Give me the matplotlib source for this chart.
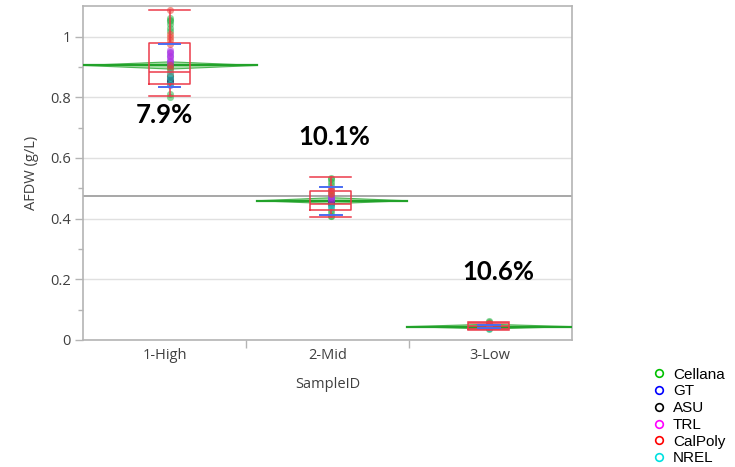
import matplotlib.pyplot as plt
from matplotlib.lines import Line2D
from matplotlib.ticker import FixedLocator, NullFormatter


plt.rcParams["font.family"] = ["Open Sans", "DejaVu Sans"]

# groups and summary values
groups = ["1-High", "2-Mid", "3-Low"]
group_n = [57, 49, 54]
group_means = [0.905, 0.459, 0.044]
cv_pct = [7.9, 10.1, 10.6]
ci_half = [0.012, 0.010, 0.008]
grand_mean = 0.475

# box plot stats read per group
q1 = [0.845, 0.429, 0.036]
medians = [0.883, 0.447, 0.045]
q3 = [0.979, 0.492, 0.056]
whis_lo = [0.803, 0.407, 0.032]
whis_hi = [1.089, 0.537, 0.060]

# individual AFDW values by lab, one list per group (High, Mid, Low)
labs = ["Cellana", "GT", "ASU", "TRL", "CalPoly", "NREL"]
cellana = [
    [1.06, 1.055, 1.05, 1.04, 1.03, 1.02, 0.91, 0.90, 0.89, 0.87, 0.85, 0.81, 0.80],
    [0.535, 0.53, 0.52, 0.51, 0.46, 0.45, 0.43, 0.42, 0.41, 0.408],
    [0.062, 0.058, 0.040, 0.037],
]
gt = [
    [0.95, 0.935, 0.92, 0.905, 0.86, 0.85, 0.84],
    [0.49, 0.475, 0.465, 0.46, 0.45],
    [0.050, 0.046, 0.043],
]
asu = [
    [0.87, 0.86, 0.855],
    [0.455, 0.445],
    [0.045, 0.042],
]
trl = [
    [0.955, 0.945, 0.935, 0.925, 0.915],
    [0.47, 0.46],
    [0.048, 0.044],
]
calpoly = [
    [1.089, 1.01, 1.00, 0.99, 0.975, 0.905, 0.895, 0.88],
    [0.50, 0.495, 0.485, 0.48],
    [0.055, 0.052, 0.047],
]
nrel = [
    [0.88, 0.865, 0.845],
    [0.44, 0.435],
    [0.041, 0.039],
]
lab_values = [cellana, gt, asu, trl, calpoly, nrel]

point_colors = ["#2fb34a", "#3b4cf0", "#333333", "#c030e0", "#e8452f", "#20c8c8"]
legend_colors = ["#00c000", "#0000ff", "#000000", "#ff00ff", "#ff0000", "#00e0e0"]

GRID = "#e0e0e0"
AXIS = "#b4b4b4"
TEXT = "#404040"
BOX_RED = "#ec3a4a"
SD_BLUE = "#4a6cf2"
DIAMOND = "#22a22a"

fig = plt.figure(figsize=(7.35, 4.67), dpi=100)
ax = fig.add_axes([0.1133, 0.272, 0.6645, 0.7152])
ax.set_xlim(-0.5, 2.5)
ax.set_ylim(0, 1.101)

# category centres, the columns sit slightly off-centre
pos = [0.03, 1.02, 1.99]

# means diamonds, width proportional to group size
total = sum(group_n)
edges = [-0.5]
for n in group_n:
    edges.append(edges[-1] + 3.0 * n / total)

ax.axhline(grand_mean, color="#a0a0a0", lw=1.3, zorder=2)

for i, m in enumerate(group_means):
    x0, x1 = edges[i], edges[i + 1]
    xc = (x0 + x1) / 2
    h = ci_half[i]
    ax.fill([x0, xc, x1, xc], [m, m + h, m, m - h], facecolor="#8fd68f",
            edgecolor=DIAMOND, lw=0.8, alpha=0.75, zorder=3)
    ax.plot([x0, x1], [m, m], color=DIAMOND, lw=1.6, zorder=4)

# points coloured by lab
for vals, col in zip(lab_values, point_colors):
    for i, ys in enumerate(vals):
        ax.scatter([pos[i]] * len(ys), ys, s=26, color=col, alpha=0.55,
                   linewidths=0, zorder=5)

# box plots
stats = []
for i in range(len(groups)):
    stats.append({"q1": q1[i], "med": medians[i], "q3": q3[i],
                  "whislo": whis_lo[i], "whishi": whis_hi[i], "fliers": []})
red = {"color": BOX_RED, "lw": 1.1}
ax.bxp(stats, positions=pos, widths=0.25, capwidths=0.25, showfliers=False,
       boxprops=red, whiskerprops=red, capprops=red, medianprops=red,
       manage_ticks=False, zorder=6)

# standard deviation lines
for i, m in enumerate(group_means):
    sd = m * cv_pct[i] / 100
    for y in (m - sd, m + sd):
        ax.plot([pos[i] - 0.067, pos[i] + 0.067], [y, y], color=SD_BLUE,
                lw=1.4, zorder=7)

# CV labels
label_xy = [(-0.004, 0.743), (1.04, 0.668), (2.047, 0.224)]
for (x, y), cv in zip(label_xy, cv_pct):
    ax.text(x, y, f"{cv:.1f}%", ha="center", va="center", fontsize=18.5,
            fontweight="bold", family=["Lato", "DejaVu Sans"], color="black",
            zorder=8)

# axes styling
ax.yaxis.set_major_locator(FixedLocator([0, 0.2, 0.4, 0.6, 0.8, 1.0]))
ax.yaxis.set_minor_locator(FixedLocator([0.1, 0.3, 0.5, 0.7, 0.9]))
ax.set_yticklabels(["0", "0.2", "0.4", "0.6", "0.8", "1"])
ax.yaxis.grid(True, color=GRID, lw=1.0, zorder=0)
ax.set_axisbelow(True)

ax.xaxis.set_major_locator(FixedLocator([0.5, 1.5]))
ax.xaxis.set_major_formatter(NullFormatter())
ax.xaxis.set_minor_locator(FixedLocator([0, 1, 2]))
ax.set_xticklabels(groups, minor=True)

ax.tick_params(axis="both", which="major", length=6, width=1, color=AXIS,
               labelsize=10.5, labelcolor=TEXT, pad=3)
ax.tick_params(axis="y", which="minor", length=3.5, width=1, color=AXIS)
ax.tick_params(axis="x", which="minor", length=0, labelsize=10.5,
               labelcolor=TEXT, pad=6)
for sp in ax.spines.values():
    sp.set_color(AXIS)
    sp.set_linewidth(1.2)

ax.set_xlabel("SampleID", fontsize=10.5, color=TEXT, labelpad=10)
ax.set_ylabel("AFDW (g/L)", fontsize=10.5, color=TEXT, labelpad=8)

# lab legend
handles = [Line2D([], [], ls="none", marker="o", mfc="none", mec=c, ms=5.5,
                  mew=1.2) for c in legend_colors]
fig.legend(handles, labs, loc="upper left",
           bbox_to_anchor=(644 / 735, 1 - 360 / 467), frameon=False,
           borderpad=0, handlelength=1.0, handletextpad=0.4,
           labelspacing=0.18, prop={"family": "Liberation Sans", "size": 11})

fig.savefig("out.png", dpi=100)
